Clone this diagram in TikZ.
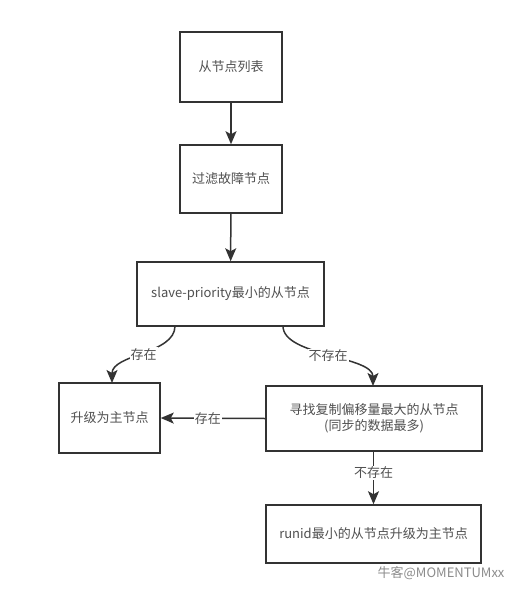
\documentclass[tikz,border=0pt]{standalone}
\usepackage{fontspec}
\setmainfont{Noto Sans CJK SC}
\usetikzlibrary{arrows.meta}
\definecolor{linec}{HTML}{333333}
\definecolor{textc}{HTML}{505050}
\begin{document}
\begin{tikzpicture}[x=1pt,y=-1pt,
  box/.style={draw=linec,line width=1.5pt,fill=white,inner sep=0pt,text=textc,font=\fontsize{13pt}{16pt}\selectfont,align=center},
  conn/.style={draw=linec,line width=1.5pt,-{Stealth[length=13pt,width=11pt,inset=3pt]}},
  lbl/.style={fill=white,text=textc,inner sep=1pt,font=\fontsize{13pt}{16pt}\selectfont}]
\useasboundingbox[fill=white] (0,0) rectangle (517,589);
\node[box,minimum width=102pt,minimum height=70pt] (a) at (231,67) {从节点列表};
\node[box,minimum width=102pt,minimum height=68pt] (b) at (231,179) {过滤故障节点};
\node[box,minimum width=187pt,minimum height=64pt] (c) at (230.5,294) {slave-priority最小的从节点};
\node[box,minimum width=101pt,minimum height=70pt] (d) at (109.5,418) {升级为主节点};
\node[box,minimum width=216pt,minimum height=65pt] (e) at (374,418.5) {寻找复制偏移量最大的从节点\\(同步的数据最多)};
\node[box,minimum width=215pt,minimum height=58pt] (f) at (373.5,534) {runid最小的从节点升级为主节点};
\draw[conn] (a) -- (b);
\draw[conn] (b) -- (c);
\coordinate (cl) at (175,326);
\coordinate (dl) at (112,383);
\coordinate (cr) at (283,326);
\coordinate (er) at (373,386);
\draw[conn] (cl) .. controls (175,354) and (112,354) .. node[lbl,pos=0.5] {存在} (dl);
\draw[conn] (cr) .. controls (283,356) and (373,356) .. node[lbl,pos=0.5] {不存在} (er);
\draw[conn] (e.west) -- node[lbl,pos=0.55] {存在} (d.east);
\draw[conn] (e.south -| f.north) -- node[lbl,pos=0.4] {不存在} (f.north);
\node[text=black!45,font=\fontsize{13pt}{15pt}\selectfont,anchor=east] (wm) at (508,573) {牛客@MOMENTUMxx};
\end{tikzpicture}
\end{document}
